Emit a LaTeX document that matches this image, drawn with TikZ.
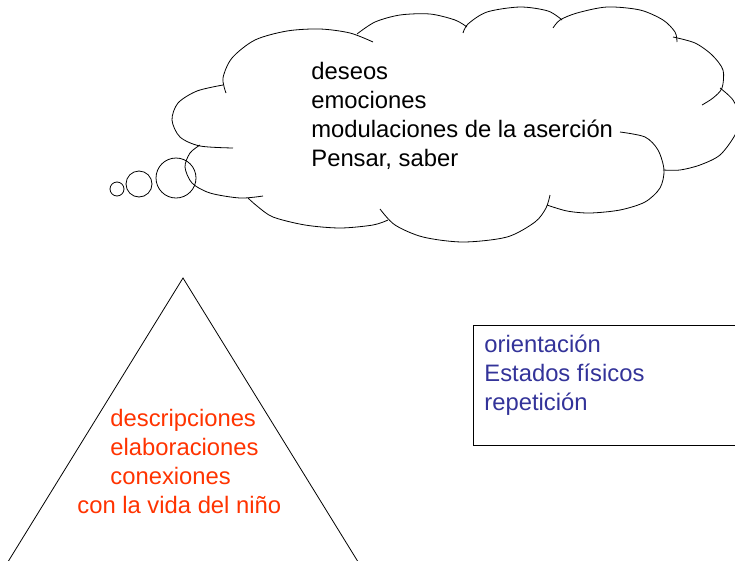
\documentclass[tikz,border=0pt]{standalone}
\usepackage{fontspec}
\setmainfont{Liberation Sans}
\usepackage{tikz}
\usetikzlibrary{positioning}
\definecolor{redtext}{HTML}{FF3300}
\definecolor{bluetext}{HTML}{333399}

\begin{document}
\begin{tikzpicture}[x=1pt,y=-1pt,line width=0.8pt]
	\clip (0,0) rectangle (735,560);
	% texts, anchored at the baseline of their last line
	\begin{scope}[every node/.style={anchor=base west,align=left,inner sep=0pt,font=\fontsize{23.8}{28.7}\selectfont}]
		\node (deseos) at (311,166) {deseos\\emociones\\modulaciones de la aserción\\Pensar, saber};
		\node[text=bluetext] (estados) at (484,410) {orientación\\Estados físicos\\repetición};
		\node[text=redtext] (descripciones) at (110,513) {descripciones\\elaboraciones\\conexiones\\\hspace*{-33pt}con la vida del niño};
	\end{scope}
	% thought cloud
	\begin{scope}[every path/.style={draw}]
		\path plot[smooth] coordinates {(226,93) (223,78) (232,58) (255,40) (287,31) (320,29) (350,33) (373,42)};
		\path plot[smooth] coordinates {(357,34) (375,22) (400,15) (430,14) (455,20) (467,27)};
		\path plot[smooth] coordinates {(463,33) (468,24) (487,12) (520,7) (548,11) (562,20)};
		\path plot[smooth] coordinates {(553,28) (560,20) (577,13) (607,7) (640,10) (663,20) (675,32) (677,42)};
		\path plot[smooth] coordinates {(673,37) (695,43) (712,55) (723,70) (722,88) (713,98) (702,105)};
		\path plot[smooth] coordinates {(720,88) (733,100) (740,118) (735,135) (720,155) (700,165) (680,170) (663,170)};
		\path plot[smooth] coordinates {(620,132) (645,137) (658,150) (664,170) (660,188) (645,202) (620,210) (590,213) (567,211) (547,205)};
		\path plot[smooth] coordinates {(550,195) (546,208) (535,222) (507,237) (463,242) (423,237) (395,225) (380,209)};
		\path plot[smooth] coordinates {(388,220) (373,225) (340,228) (305,225) (273,217) (257,206) (248,198)};
		\path plot[smooth] coordinates {(200,145) (190,153) (185,167) (192,183) (210,193) (240,198) (263,196)};
		\path plot[smooth] coordinates {(223,85) (197,91) (178,103) (172,120) (180,137) (200,146) (233,148)};
		\path (117,189) circle (7);
		\path (139,184) circle (13);
		\path (176,178) circle (20);
	\end{scope}
	% pyramid and box
	\draw (183,278) -- (6,565) -- (360,565) -- cycle;
	\draw (473,325) rectangle (760,445);
\end{tikzpicture}
\end{document}
